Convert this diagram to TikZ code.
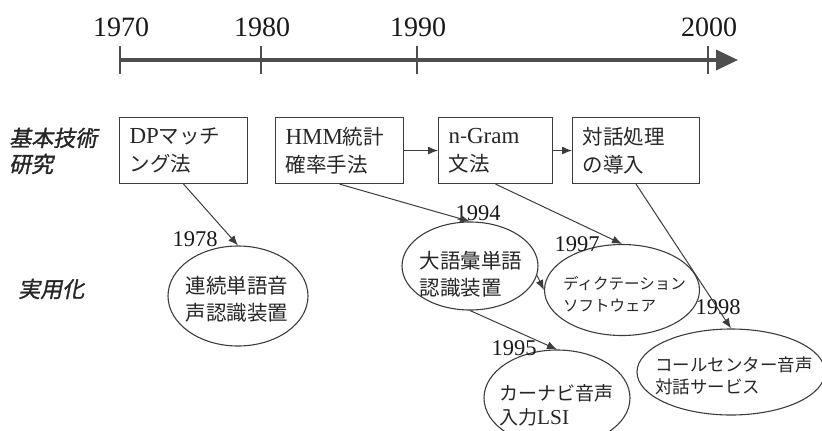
\documentclass[tikz,border=0pt]{standalone}
\usepackage{fontspec}
\setmainfont{Liberation Serif}
\newfontfamily\lt[Scale=1.12]{Liberation Serif}
\newfontfamily\jp{Noto Sans CJK JP}
\newfontfamily\jpsl[FakeSlant=0.2,FakeBold=1.2]{Noto Sans CJK JP}
\usetikzlibrary{shapes.geometric,arrows.meta}
\definecolor{ink}{HTML}{3C3C3C}
\definecolor{axis}{HTML}{4E4E4E}
\begin{document}
\begin{tikzpicture}[x=1pt,y=-1pt,
  box/.style={draw=ink,line width=1.1pt,minimum height=66pt,inner xsep=10pt,inner ysep=0pt,
    align=left,font=\fontsize{20.5}{28}\selectfont,anchor=north west,text=black!85},
  ell/.style={draw=ink,line width=1.1pt,ellipse,inner sep=0pt},
  conn/.style={draw=ink,line width=1pt,-{Latex[length=10pt,width=8pt]}},
  axisline/.style={draw=axis,line width=3.5pt,-{Triangle[length=22pt,width=20pt]}},
  tickline/.style={draw=axis,line width=2.5pt},
  bigyear/.style={font=\fontsize{28}{30}\selectfont,text=black!90},
  year/.style={font=\fontsize{22.5}{24}\selectfont,text=black!90,inner sep=0pt},
  lbl/.style={font=\fontsize{20.5}{27}\selectfont,align=left,inner sep=0pt,text=black!85},
  side/.style={font=\fontsize{22}{26}\selectfont\jpsl,align=left,anchor=west,inner sep=0pt,text=black!85}]
\useasboundingbox (0,0) rectangle (822,431);

% timeline
\coordinate (a0) at (120,60);
\coordinate (a1) at (738,60);
\draw[axisline] (a0) -- (a1);
\foreach \x/\y in {120/1970,261/1980,417/1990,708/2000}{
  \draw[tickline] (\x,46) -- (\x,74);
  \node[bigyear] (y\y) at (\x+1,27) {\y};
}

% side labels
\node[side] (kiso) at (9,151) {基本技術\\研究};
\node[side] (jitsu) at (18,289) {実用化};

% boxes
\node[box,text width=108pt] (dp) at (119,117) {{\lt DP}{\jp マッチ}\\{\jp ング法}};
\node[box,text width=108pt] (hmm) at (275,117) {{\lt HMM}{\jp 統計}\\{\jp 確率手法}};
\node[box,text width=94pt] (ngram) at (438,117) {{\lt n}{\jp -}{\lt Gram}\\{\jp 文法}};
\node[box,text width=107pt] (taiwa) at (572,117) {{\jp 対話処理}\\{\jp の導入}};

% ellipses
\node[ell,minimum width=140pt,minimum height=100pt] (e1) at (238,296) {};
\node[ell,minimum width=136pt,minimum height=88pt] (e2) at (470,266) {};
\node[ell,minimum width=155pt,minimum height=91pt] (e3) at (622,290) {};
\node[ell,minimum width=146pt,minimum height=96pt] (e4) at (557,398) {};
\node[ell,minimum width=188pt,minimum height=86pt] (e5) at (731,372) {};

\node[lbl] (t1) at (237,299) {\jp 連続単語音\\\jp 声認識装置};
\node[lbl] (t2) at (471,274) {\jp 大語彙単語\\\jp 認識装置};
\node[lbl,font=\fontsize{15.5}{22}\selectfont,anchor=west] (t3) at (563,294) {\jp ディクテーション\\\jp ソフトウェア};
\node[lbl,font=\fontsize{19}{24}\selectfont,anchor=west] (t4) at (499,405) {{\jp カーナビ音声}\\{\jp 入力}{\lt LSI}};
\node[lbl,font=\fontsize{17.5}{22}\selectfont,anchor=west] (t5) at (655,376) {\jp コールセンター音声\\\jp 対話サービス};

% year labels
\node[year] (l1978) at (195,239) {1978};
\node[year] (l1994) at (478,213) {1994};
\node[year] (l1997) at (577,244) {1997};
\node[year] (l1995) at (514,348) {1995};
\node[year] (l1998) at (718,307) {1998};

% connectors
\draw[conn] (hmm.east) -- (ngram.west);
\draw[conn] (ngram.east) -- (taiwa.west);
\draw[conn] (dp.south) -- (e1.north);
\draw[conn] (hmm.south) -- (e2.north);
\draw[conn] (ngram.south) -- (e3.north);
\draw[conn] (e2.-8) -- (e3.west);
\draw[conn] (e2.south) -- (e4.north);
\draw[conn] (taiwa.south) -- (e5.north);
\end{tikzpicture}
\end{document}
